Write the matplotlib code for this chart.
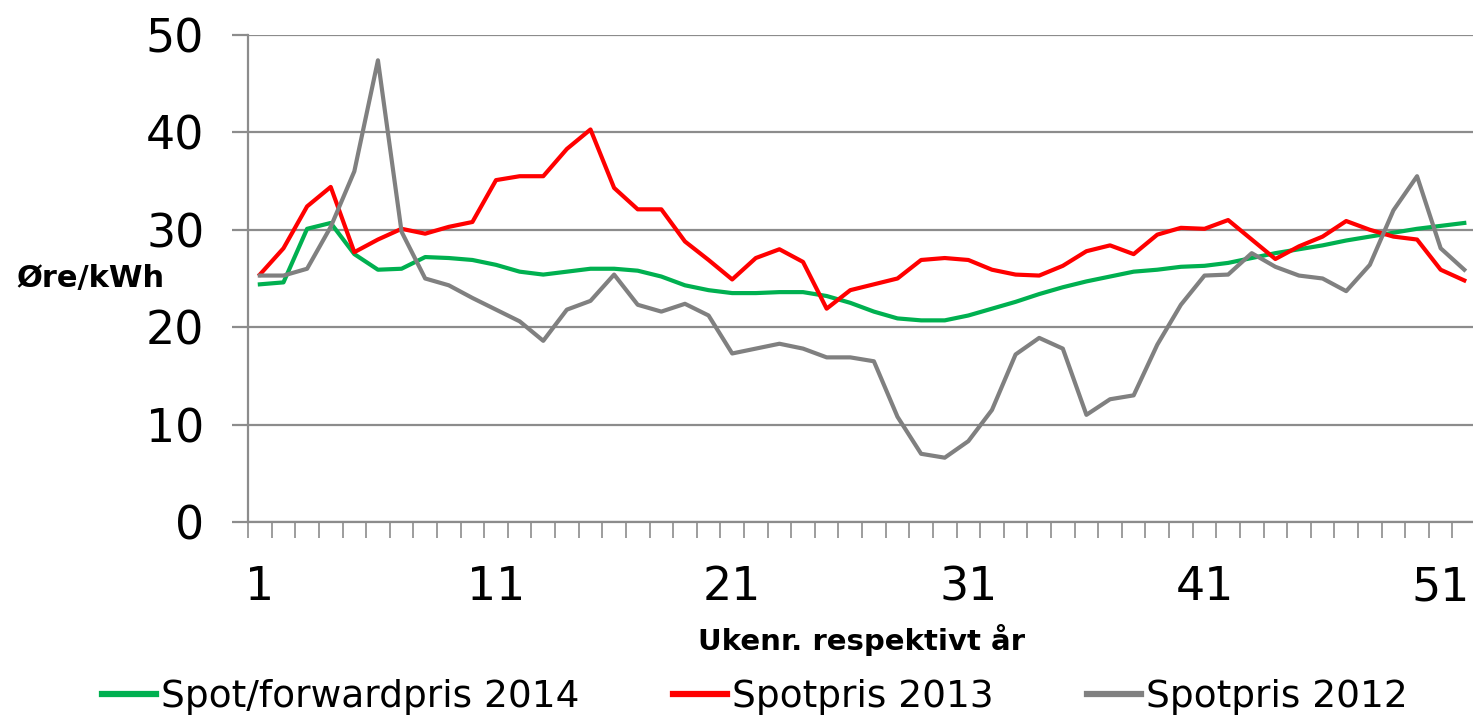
# -*- coding:utf-8 -*-
"""Spotpris per uke, 2012-2014"""
import matplotlib
matplotlib.use('Agg')
import matplotlib.pyplot as plt
from matplotlib.ticker import FixedLocator

weeks = list(range(1, 53))
tick_weeks = [1, 11, 21, 31, 41, 51]

# Spot/forwardpris 2014
pris_2014 = [24.4, 24.6, 30.1, 30.7, 27.5, 25.9, 26.0, 27.2, 27.1, 26.9,
             26.4, 25.7, 25.4, 25.7, 26.0, 26.0, 25.8, 25.2, 24.3, 23.8,
             23.5, 23.5, 23.6, 23.6, 23.2, 22.5, 21.6, 20.9, 20.7, 20.7,
             21.2, 21.9, 22.6, 23.4, 24.1, 24.7, 25.2, 25.7, 25.9, 26.2,
             26.3, 26.6, 27.1, 27.6, 28.0, 28.4, 28.9, 29.3, 29.7, 30.1,
             30.4, 30.7]
# Spotpris 2013
pris_2013 = [25.4, 28.1, 32.4, 34.4, 27.7, 29.0, 30.1, 29.6, 30.3, 30.8,
             35.1, 35.5, 35.5, 38.3, 40.3, 34.3, 32.1, 32.1, 28.8, 26.9,
             24.9, 27.1, 28.0, 26.7, 21.9, 23.8, 24.4, 25.0, 26.9, 27.1,
             26.9, 25.9, 25.4, 25.3, 26.3, 27.8, 28.4, 27.5, 29.5, 30.2,
             30.1, 31.0, 29.0, 27.0, 28.3, 29.3, 30.9, 30.0, 29.3, 29.0,
             25.9, 24.8]
# Spotpris 2012
pris_2012 = [25.3, 25.3, 26.0, 30.3, 36.0, 47.4, 29.8, 25.0, 24.3, 23.0,
             21.8, 20.6, 18.6, 21.8, 22.7, 25.4, 22.3, 21.6, 22.4, 21.2,
             17.3, 17.8, 18.3, 17.8, 16.9, 16.9, 16.5, 10.8, 7.0, 6.6,
             8.3, 11.5, 17.2, 18.9, 17.8, 11.0, 12.6, 13.0, 18.2, 22.3,
             25.3, 25.4, 27.6, 26.2, 25.3, 25.0, 23.7, 26.4, 32.0, 35.5,
             28.1, 25.9]

serier = ['Spot/forwardpris 2014', 'Spotpris 2013', 'Spotpris 2012']
farger = ['#00B050', '#FF0000', '#808080']
grid_farge = '#8c8c8c'

plt.rcParams['font.family'] = ['DejaVu Sans']

fig = plt.figure(figsize=(14.73, 7.17), dpi=100)
# plottet går litt utenfor høyre kant, som i originalen
ax = fig.add_axes([0.1684, 0.272, 0.8337, 0.6792])

for data, navn, farge in zip([pris_2014, pris_2013, pris_2012], serier, farger):
    ax.plot(weeks, data, color=farge, linewidth=3.0, label=navn)

ax.set_xlim(0.5, 52.5)
ax.set_ylim(0, 50)
ax.set_yticks(range(0, 51, 10))
ax.yaxis.grid(True, color=grid_farge, linewidth=1.6)
ax.set_axisbelow(True)

ax.set_xticks(tick_weeks)
ax.set_xticklabels([str(w) for w in tick_weeks])
ax.xaxis.set_minor_locator(FixedLocator([w + 0.5 for w in range(0, 53)]))
ax.tick_params(axis='x', which='major', length=0, pad=31, labelsize=33)
ax.tick_params(axis='x', which='minor', length=11.5, width=1.2,
               color=grid_farge, direction='out')
ax.tick_params(axis='y', length=11.5, width=1.6, color=grid_farge,
               direction='out', pad=20, labelsize=33)

for side in ['top', 'right']:
    ax.spines[side].set_visible(False)
for side in ['left', 'bottom']:
    ax.spines[side].set_color(grid_farge)
    ax.spines[side].set_linewidth(1.6)

fig.text(0.011, 0.611, 'Øre/kWh', fontsize=22, fontweight='bold',
         va='center', ha='left')
fig.text(0.585, 0.107, 'Ukenr. respektivt år', fontsize=21,
         fontweight='bold', ha='center', va='center')

leg = fig.legend(loc='center', bbox_to_anchor=(0.5125, 0.028), ncol=3,
                 frameon=False, fontsize=27, handlelength=1.44,
                 handletextpad=0.13, columnspacing=2.5)
for linje in leg.get_lines():
    linje.set_linewidth(4.5)

fig.savefig('out.png', dpi=100)
